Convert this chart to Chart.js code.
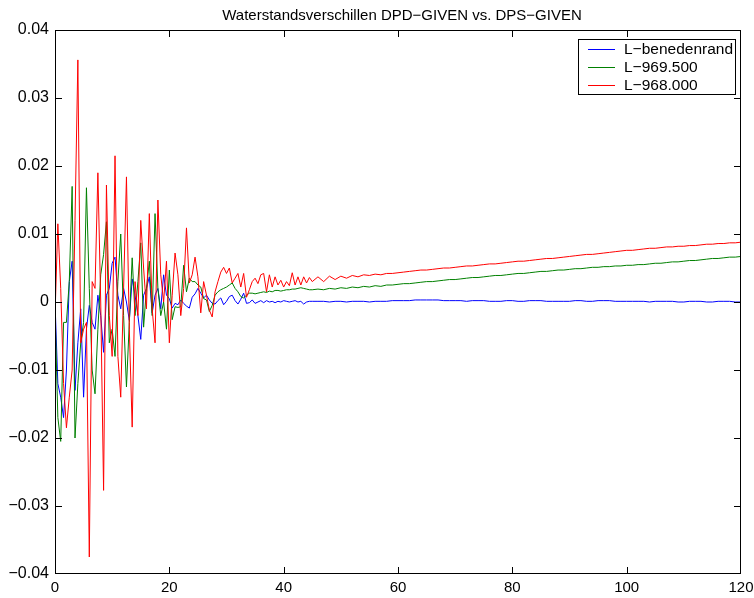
<!DOCTYPE html>
<html>
<head>
<meta charset="utf-8">
<script src="https://cdn.jsdelivr.net/npm/chart.js@4.4.1/dist/chart.umd.min.js"></script>
<style>
  html, body { margin: 0; padding: 0; background: #fff; }
  canvas { display: block; }
</style>
</head>
<body>
<canvas id="plot" width="754" height="598"></canvas>
<script>
  const chartTitle = "Waterstandsverschillen DPD\u2212GIVEN vs. DPS\u2212GIVEN";
  const seriesNames = ["L\u2212benedenrand", "L\u2212969.500", "L\u2212968.000"];
  const seriesColors = ["#0000ff", "#008000", "#ff0000"];

  const xTicks = [0, 20, 40, 60, 80, 100, 120];
  const xTickLabels = ["0", "20", "40", "60", "80", "100", "120"];
  const yTicks = [-0.04, -0.03, -0.02, -0.01, 0, 0.01, 0.02, 0.03, 0.04];
  const yTickLabels = ["\u22120.04", "\u22120.03", "\u22120.02", "\u22120.01", "0", "0.01", "0.02", "0.03", "0.04"];

  // time axis: every 0.5 up to 45, then every 1 up to 120
  const xs = [];
  for (let i = 0; i <= 90; i++) xs.push(i / 2);
  for (let v = 46; v <= 120; v++) xs.push(v);

  const benedenrand = [
    0, -0.012, -0.014, -0.017, -0.010, 0.003, 0.006, -0.013, -0.006, -0.001,
    -0.014, -0.004, -0.0005, -0.003, -0.004, 0.001, -0.002, -0.0074, 0.001, 0.002,
    0.0057, 0.0066, 0.001, -0.001, 0.002, 0.000, -0.0027, 0.0034, 0.001, -0.002,
    -0.0055, 0.001, 0.002, 0.0037, -0.0016, 0.001, 0.002, -0.001, 0.004, 0.001,
    0.0005, -0.0009, -0.0002, -0.0004, 0.0003, -0.0002, -0.0006, -0.0009, 0.0007, 0.0012,
    0.002, 0.0013, 0.0006, 0.001, 0.0003, -0.0002, -0.0003, 0.0002, 0.0006, -0.0004,
    0.0001, 0.0008, 0.001, 0.0002, -0.0003, 0.0004, 0.0013, -0.0002, -0.0001, 0.0003,
    -0.0002, 0.0, 0.0002, -0.0001, 0.0002, 0.0, 0.0001, -0.0001, 0.0001, 0.0,
    0.0002, 0.0001, 0.0, 0.0001, 0.0002, 0.0, 0.0001, -0.0003, 0.0, 0.0001,
    0.0001,
    0.0001, 0.0001, 0.0, 0.0001, 0.0001, 0.0, 0.0001, 0.0001, 0.0001, 0.0,
    0.0001, 0.0001, 0.0001, 0.0002, 0.0002, 0.0002, 0.0002, 0.0003, 0.0003, 0.0003,
    0.0003, 0.0003, 0.0002, 0.0002, 0.0002, 0.0002, 0.0001, 0.0002, 0.0002, 0.0002,
    0.0001, 0.0001, 0.0001, 0.0002, 0.0002, 0.0001, 0.0001, 0.0002, 0.0002, 0.0002,
    0.0001, 0.0001, 0.0001, 0.0001, 0.0001, 0.0002, 0.0002, 0.0001, 0.0001, 0.0002,
    0.0002, 0.0002, 0.0001, 0.0001, 0.0001, 0.0001, 0.0001, 0.0001, 0.0, 0.0001,
    0.0001, 0.0001, 0.0001, 0.0, 0.0, 0.0001, 0.0001, 0.0001, 0.0, 0.0,
    0.0001, 0.0001, 0.0001, 0.0, 0.0
  ];

  const l969500 = [
    -0.001, -0.017, -0.0205, -0.003, -0.003, 0.003, 0.017, -0.020, -0.012, -0.006,
    -0.003, 0.0168, 0.002, -0.010, -0.0135, -0.004, 0.004, 0.007, 0.0118, -0.006,
    -0.004, -0.008, 0.003, 0.010, -0.002, -0.0125, -0.003, 0.0065, -0.002, 0.003,
    0.0087, -0.0037, 0.002, 0.006, -0.002, 0.013, 0.002, -0.002, 0.000, -0.004,
    0.0047, -0.0026, -0.0007, -0.0008, -0.0007, 0.0054, 0.0015, 0.0035, 0.003, 0.003,
    0.0025, 0.0022, 0.0005, 0.0003, -0.0014, -0.0005, 0.001, 0.0015, 0.0018, 0.002,
    0.0022, 0.0025, 0.0028, 0.002, 0.0015, 0.0008, 0.0006, 0.001, 0.0013, 0.0013,
    0.0012, 0.0013, 0.0014, 0.0015, 0.0014, 0.0016, 0.0015, 0.0017, 0.0017, 0.0016,
    0.0017, 0.0018, 0.0018, 0.0019, 0.0019, 0.002, 0.0021, 0.002, 0.0019, 0.0018,
    0.0018,
    0.0019, 0.0018, 0.002, 0.0019, 0.0021, 0.002, 0.0022, 0.0021, 0.0023, 0.0022,
    0.0024, 0.0023, 0.0025, 0.0025, 0.0026, 0.0027, 0.0027, 0.0028, 0.0029, 0.003,
    0.003, 0.0031, 0.0032, 0.0033, 0.0033, 0.0034, 0.0035, 0.0036, 0.0036, 0.0037,
    0.0038, 0.0039, 0.0039, 0.004, 0.0041, 0.0042, 0.0042, 0.0043, 0.0044, 0.0045,
    0.0045, 0.0046, 0.0047, 0.0047, 0.0048, 0.0049, 0.0049, 0.005, 0.0051, 0.0051,
    0.0052, 0.0052, 0.0053, 0.0053, 0.0054, 0.0054, 0.0055, 0.0055, 0.0056, 0.0057,
    0.0057, 0.0058, 0.0059, 0.0059, 0.006, 0.0061, 0.0061, 0.0062, 0.0063, 0.0064,
    0.0064, 0.0065, 0.0066, 0.0066, 0.0067
  ];

  const l968000 = [
    -0.002, 0.0115, 0.002, -0.012, -0.0185, -0.014, -0.010, 0.012, 0.0356, -0.006,
    -0.004, -0.003, -0.0375, 0.003, 0.002, 0.019, 0.000, -0.0277, 0.0172, -0.002,
    -0.008, 0.0215, -0.008, -0.014, 0.002, 0.0184, -0.004, -0.0184, 0.003, -0.002,
    0.012, 0.005, -0.001, 0.013, -0.001, -0.006, 0.015, 0.004, 0.000, 0.006,
    -0.006, 0.001, 0.0072, 0.004, -0.002, 0.002, 0.0109, 0.0028, 0.004, 0.0066,
    0.0037, -0.0016, 0.003, 0.001, -0.0012, -0.0022, 0.0015, 0.003, 0.0044, 0.0051,
    0.0042, 0.005, 0.0028, 0.0035, 0.0042, 0.0022, 0.0042, 0.0007, 0.0018, 0.003,
    0.0035, 0.0027, 0.004, 0.0042, 0.0015, 0.004, 0.0022, 0.0037, 0.0025, 0.0032,
    0.0022, 0.003, 0.0024, 0.0043, 0.0025, 0.0037, 0.0025, 0.0037, 0.0028, 0.0036,
    0.003,
    0.0037, 0.003, 0.0038, 0.0033, 0.0038, 0.0035, 0.0039, 0.0037, 0.004, 0.0039,
    0.0041, 0.004, 0.0042, 0.0042, 0.0043, 0.0044, 0.0045, 0.0046, 0.0047, 0.0047,
    0.0048, 0.0049, 0.005, 0.005, 0.0051, 0.0052, 0.0053, 0.0053, 0.0054, 0.0055,
    0.0056, 0.0056, 0.0057, 0.0058, 0.0059, 0.006, 0.006, 0.0061, 0.0062, 0.0063,
    0.0064, 0.0064, 0.0065, 0.0066, 0.0067, 0.0068, 0.0069, 0.007, 0.007, 0.0071,
    0.0072, 0.0073, 0.0074, 0.0075, 0.0076, 0.0076, 0.0077, 0.0078, 0.0079, 0.0079,
    0.008, 0.0081, 0.0081, 0.0082, 0.0082, 0.0083, 0.0083, 0.0084, 0.0085, 0.0085,
    0.0086, 0.0086, 0.0087, 0.0087, 0.0088
  ];

  const FONT = "'Liberation Sans', Arial, Helvetica, sans-serif";

  function toPoints(values) {
    return xs.map((x, i) => ({ x, y: values[i] }));
  }

  // box, inward ticks on all sides, title and boxed legend, matlab style
  const matlabFrame = {
    id: "matlabFrame",
    afterDraw(chart) {
      const { ctx, chartArea: a, scales } = chart;
      const sx = scales.x, sy = scales.y;
      const tickLen = 7;
      const L = Math.round(a.left), R = Math.round(a.right) - 1;
      const T = Math.round(a.top), B = Math.round(a.bottom) - 1;
      ctx.save();
      ctx.fillStyle = "#000";

      xTicks.forEach(v => {
        const px = Math.min(Math.round(sx.getPixelForValue(v)), R);
        ctx.fillRect(px, B - tickLen + 1, 1, tickLen);
        ctx.fillRect(px, T, 1, tickLen);
      });
      yTicks.forEach(v => {
        const py = Math.min(Math.round(sy.getPixelForValue(v)), B);
        ctx.fillRect(L, py, tickLen, 1);
        ctx.fillRect(R - tickLen + 1, py, tickLen, 1);
      });
      // axes box
      ctx.fillRect(L, T, R - L + 1, 1);
      ctx.fillRect(L, B, R - L + 1, 1);
      ctx.fillRect(L, T, 1, B - T + 1);
      ctx.fillRect(R, T, 1, B - T + 1);

      ctx.font = "15px " + FONT;
      ctx.textAlign = "center";
      ctx.textBaseline = "alphabetic";
      ctx.fillText(chartTitle, (a.left + a.right) / 2 + 4, 20);

      // legend
      const lx = 578, ly = 39, lw = 158, lh = 56;
      ctx.fillStyle = "#fff";
      ctx.fillRect(lx, ly, lw, lh);
      ctx.fillStyle = "#000";
      ctx.fillRect(lx, ly, lw, 1);
      ctx.fillRect(lx, ly + lh - 1, lw, 1);
      ctx.fillRect(lx, ly, 1, lh);
      ctx.fillRect(lx + lw - 1, ly, 1, lh);
      ctx.font = "15.5px " + FONT;
      ctx.textAlign = "left";
      ctx.textBaseline = "middle";
      seriesNames.forEach((name, i) => {
        const ry = ly + 10 + i * 18;
        ctx.fillStyle = seriesColors[i];
        ctx.fillRect(588, ry, 27, 1);
        ctx.fillStyle = "#000";
        ctx.fillText(name, 624, ry + 0.5);
      });
      ctx.restore();
    }
  };

  const order = [3, 2, 1];
  new Chart(document.getElementById("plot").getContext("2d"), {
    type: "line",
    data: {
      datasets: [benedenrand, l969500, l968000].map((vals, i) => ({
        label: seriesNames[i],
        data: toPoints(vals),
        borderColor: seriesColors[i],
        borderWidth: 1,
        pointRadius: 0,
        tension: 0,
        fill: false,
        order: order[i]
      }))
    },
    options: {
      responsive: false,
      devicePixelRatio: 1,
      animation: false,
      events: [],
      layout: { padding: { top: 30, right: 13, left: 0, bottom: 0 } },
      plugins: {
        legend: { display: false },
        title: { display: false },
        tooltip: { enabled: false }
      },
      scales: {
        x: {
          type: "linear",
          min: 0,
          max: 120,
          grid: { display: false, drawTicks: false },
          border: { display: false },
          afterBuildTicks: s => { s.ticks = xTicks.map(v => ({ value: v })); },
          afterFit: s => { s.height = 24; s.paddingLeft = 0; s.paddingRight = 0; },
          ticks: {
            color: "#000",
            font: { family: FONT, size: 15 },
            padding: 5,
            maxRotation: 0,
            autoSkip: false,
            callback: (v, i) => xTickLabels[i]
          }
        },
        y: {
          type: "linear",
          min: -0.04,
          max: 0.04,
          grid: { display: false, drawTicks: false },
          border: { display: false },
          afterBuildTicks: s => { s.ticks = yTicks.map(v => ({ value: v })); },
          afterFit: s => { s.width = 55; s.paddingTop = 0; s.paddingBottom = 0; },
          ticks: {
            color: "#000",
            font: { family: FONT, size: 16 },
            padding: 6,
            autoSkip: false,
            callback: (v, i) => yTickLabels[i]
          }
        }
      }
    },
    plugins: [matlabFrame]
  });
</script>
</body>
</html>
